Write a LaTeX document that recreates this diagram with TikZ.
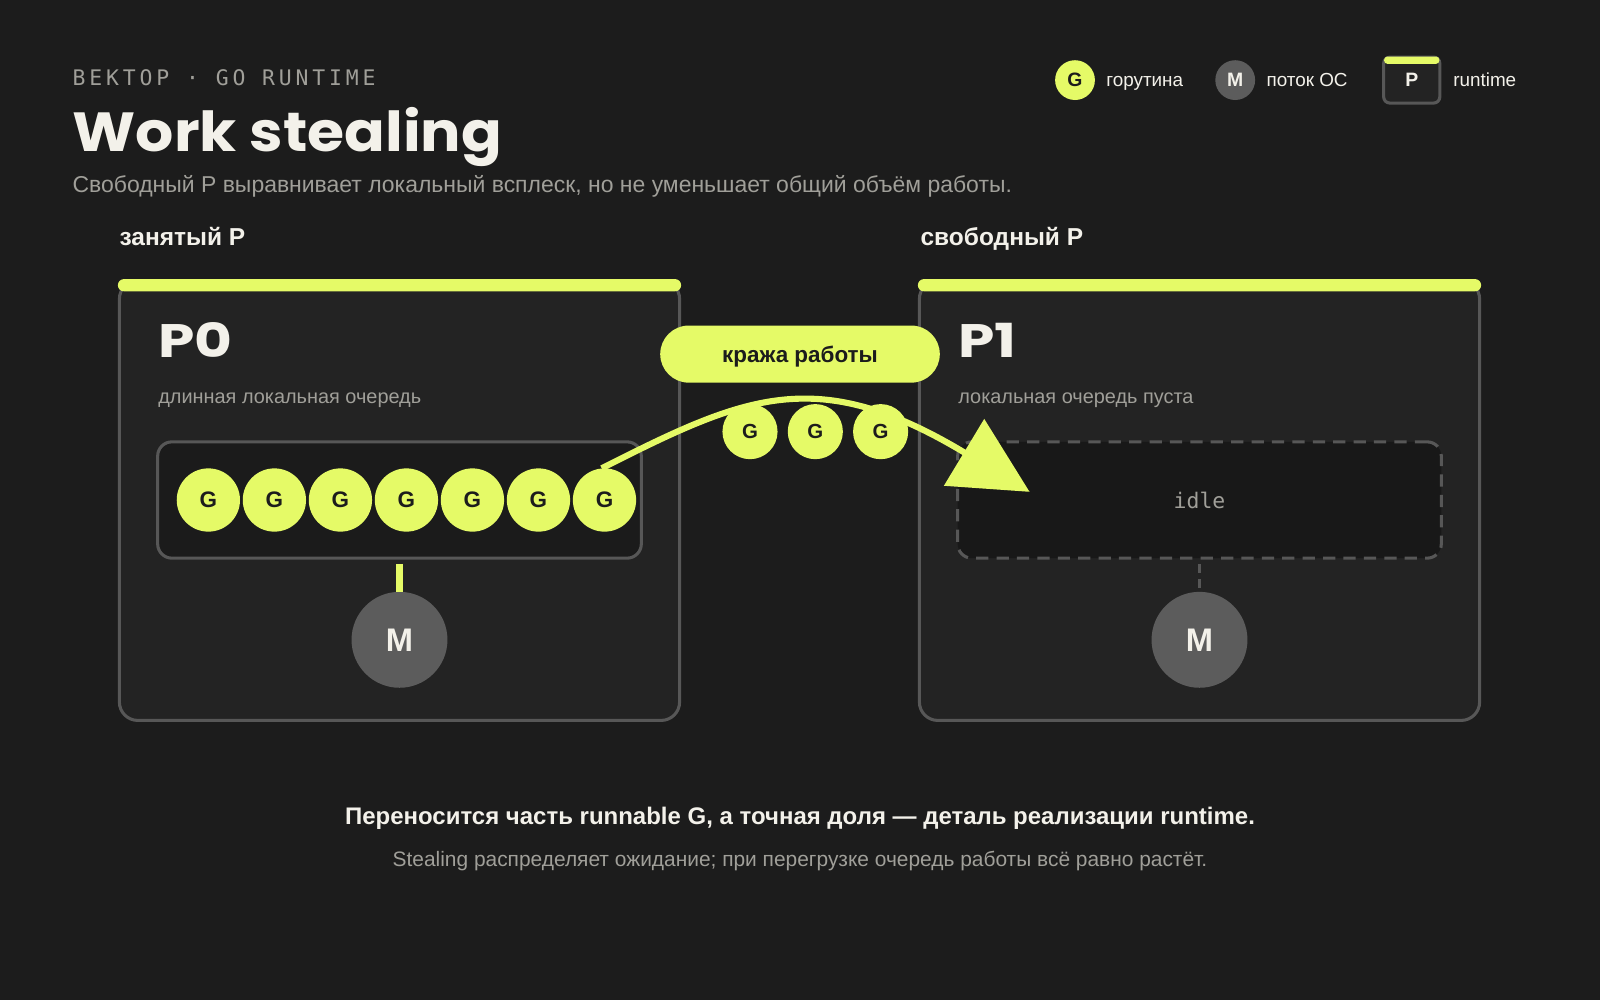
\documentclass[tikz,border=0pt]{standalone}
\usepackage{fontspec}
\usetikzlibrary{arrows.meta}
\setmainfont{Liberation Sans}
\newfontfamily\headfont{Poppins}[FakeStretch=1.09]
\newfontfamily\procfont{Poppins}[FakeStretch=1.24]
\newfontfamily\kickerfont{DejaVu Sans Mono}[LetterSpace=18]
\newfontfamily\codefont{DejaVu Sans Mono}
\definecolor{bg}{HTML}{1C1C1C}
\definecolor{panelbg}{HTML}{232323}
\definecolor{queuebg}{HTML}{1B1B1B}
\definecolor{edge}{HTML}{575757}
\definecolor{lime}{HTML}{E5FA67}
\definecolor{ink}{HTML}{1C1C1C}
\definecolor{paper}{HTML}{F3F1EA}
\definecolor{muted}{HTML}{A09F99}
\definecolor{mgray}{HTML}{5C5C5C}
\newcommand{\fs}[1]{\fontsize{#1}{#1}\selectfont}

\begin{document}
\begin{tikzpicture}[x=1pt,y=-1pt]

% styles
\tikzstyle{txt} = [inner sep=0pt, anchor=base west, text=paper];
\tikzstyle{panel} = [draw=edge, line width=3pt, fill=panelbg,
	rounded corners=18pt, minimum width=549pt, minimum height=431pt];
\tikzstyle{queue} = [draw=edge, line width=3pt, fill=queuebg,
	rounded corners=14pt, minimum width=474pt, minimum height=114pt];
\tikzstyle{gor} = [circle, fill=lime, text=ink, inner sep=0pt,
	minimum size=62pt, font=\bfseries\fs{22}];
\tikzstyle{thread} = [circle, fill=mgray, text=paper, inner sep=0pt,
	minimum size=94pt, font=\bfseries\fs{32}];
\tikzstyle{link} = [lime, line width=6pt];

\fill[bg] (0,0) rectangle (1568,980);
\useasboundingbox (0,0) rectangle (1568,980);

% heading
\node[txt, text=muted, font=\kickerfont\fs{21}] (kicker) at (71,84) {ВЕКТОР · GO RUNTIME};
\node[txt, font=\headfont\bfseries\fs{54}] (title) at (71,148) {Work stealing};
\node[txt, text=muted, font=\fs{22.5}] (sub) at (71,189)
	{Свободный P выравнивает локальный всплеск, но не уменьшает общий объём работы.};

% legend
\node[gor, minimum size=39pt, font=\bfseries\fs{19}] (legg) at (1053.5,78.5) {G};
\node[txt, font=\fs{18.5}] (leggt) at (1084,85) {горутина};
\node[thread, minimum size=39pt, font=\bfseries\fs{19}] (legm) at (1210.5,78.5) {M};
\node[txt, font=\fs{18.5}] (legmt) at (1241,85) {поток ОС};
\node[draw=edge, line width=3pt, fill=panelbg, rounded corners=6pt,
	minimum width=55pt, minimum height=45pt, text=paper,
	font=\bfseries\fs{19}] (legp) at (1383.5,78.5) {P};
\fill[lime, rounded corners=3pt] ([xshift=2pt,yshift=-1pt]legp.north west)
	rectangle ([xshift=-2pt,yshift=-8pt]legp.north east);
\node[txt, font=\fs{18.5}] (legpt) at (1424,85) {runtime};

% busy P
\node[txt, font=\bfseries\fs{24}] (busy) at (117,241) {занятый P};
\node[panel] (p0) at (391.5,490.5) {};
\fill[lime, rounded corners=6pt] (p0.north west) rectangle ([yshift=-12pt]p0.north east);
\node[txt, font=\procfont\bfseries\fs{46}] (p0name) at (155,350) {P0};
\node[txt, text=muted, font=\fs{19.5}] (p0note) at (155,395) {длинная локальная очередь};
\node[queue] (q0) at (391.5,490) {};
\foreach \i in {1,...,7}
	\node[gor] (g\i) at (139.5+64.7*\i,490) {G};
\node[thread] (m0) at (391.5,627) {M};
\draw[link, shorten <=4pt] (q0.south) -- (m0.north);

% idle P
\node[txt, font=\bfseries\fs{24}] (idle) at (902,241) {свободный P};
\node[panel] (p1) at (1175.5,490.5) {};
\fill[lime, rounded corners=6pt] (p1.north west) rectangle ([yshift=-12pt]p1.north east);
\node[txt, font=\procfont\bfseries\fs{46}] (p1name) at (939,350) {P1};
\node[txt, text=muted, font=\fs{19.5}] (p1note) at (939,395) {локальная очередь пуста};
\node[queue, fill=queuebg!90!black, draw=edge, dash pattern=on 12pt off 8pt,
	text=muted, font=\codefont\fs{21}] (q1) at (1175.5,490) {idle};
\node[thread] (m1) at (1175.5,627) {M};
\draw[edge, line width=3pt, dash pattern=on 9pt off 6pt, shorten <=4pt] (q1.south) -- (m1.north);

% stealing
\node[fill=lime, text=ink, rounded corners=28pt, minimum width=274pt,
	minimum height=56pt, text depth=0pt, font=\bfseries\fs{22}] (steal) at (784,347) {кража работы};
\coordinate (tip) at (1009,482);
\draw[link, -{Triangle[length=75pt,width=75pt]}]
	(g7.95) .. controls (730,388) and (800,356) .. (tip);
\node[gor, minimum size=54pt, font=\bfseries\fs{20}] (s1) at (735,423) {G};
\node[gor, minimum size=54pt, font=\bfseries\fs{20}] (s2) at (799,423) {G};
\node[gor, minimum size=54pt, font=\bfseries\fs{20}] (s3) at (863,423) {G};

% footer
\node[txt, anchor=base, font=\bfseries\fs{23.5}] (sum) at (784,808)
	{Переносится часть runnable G, а точная доля — деталь реализации runtime.};
\node[txt, anchor=base, text=muted, font=\fs{20.5}] (note) at (784,849)
	{Stealing распределяет ожидание; при перегрузке очередь работы всё равно растёт.};

\end{tikzpicture}
\end{document}
